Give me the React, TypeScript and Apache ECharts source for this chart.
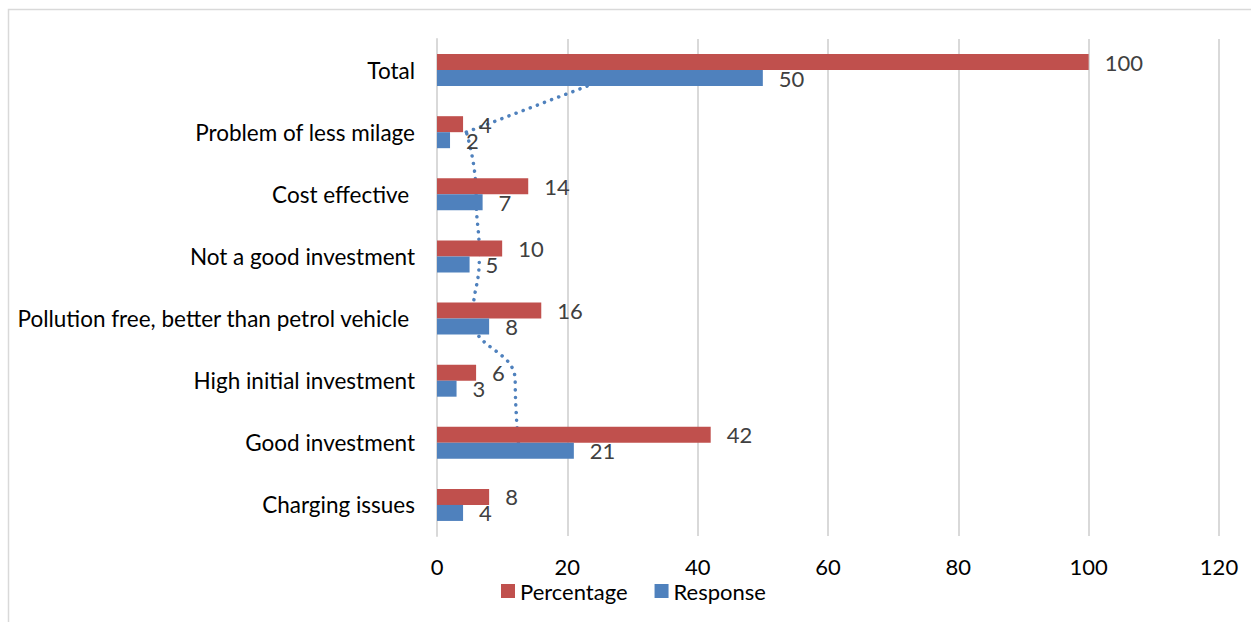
import React, { useEffect, useRef } from "react";
import * as echarts from "echarts";

// Categories listed bottom to top, as the category axis draws them
const categories = [
  "Charging issues",
  "Good investment",
  "High initial investment",
  "Pollution free, better than petrol vehicle ",
  "Not a good investment",
  "Cost effective ",
  "Problem of less milage",
  "Total",
];
const percentage = [8, 42, 6, 16, 10, 14, 4, 100];
const response = [4, 21, 3, 8, 5, 7, 2, 50];
// Moving-average trendline of the responses (starts at the second category)
const responseTrend: (number | string)[] = ["-", 12.5, 12, 5.5, 6.5, 6, 4.5, 29.5];
const xTicks = { min: 0, max: 120, interval: 20 };

// The curved stretch runs up to "Problem of less milage"; the last stretch to "Total" is straight
const lastIdx = responseTrend.length - 1;
const trendCurve = responseTrend.map((v, i) => (i === lastIdx ? "-" : v));
const trendTail = responseTrend.map((v, i) => (i >= lastIdx - 1 ? v : "-"));

const FONT = "Lato, 'Open Sans', sans-serif";
const FS_CAT = 22.5;
const FS = 22;
const RED = "#C0504D";
const BLUE = "#4F81BD";
const GRID = "#D9D9D9";

export default function App() {
  const ref = useRef<HTMLDivElement>(null);

  useEffect(() => {
    document.body.style.margin = "0";
    const chart = echarts.init(ref.current!, undefined, { renderer: "svg" });
    const valueLabel = {
      show: true,
      position: "right",
      distance: 16,
      color: "#404040",
      fontSize: FS,
      fontFamily: FONT,
    };
    const trendStyle = { color: BLUE, width: 3.5, type: [0.1, 7.5], cap: "round" };
    chart.setOption({
      animation: false,
      backgroundColor: "#fff",
      textStyle: { fontFamily: FONT },
      graphic: [
        {
          type: "rect",
          left: 6,
          top: 7,
          shape: { width: 1270, height: 640 },
          style: { fill: "none", stroke: GRID, lineWidth: 1.5 },
          silent: true,
          z: -10,
        },
      ],
      legend: {
        data: ["Percentage", "Response"],
        left: 501,
        top: 580,
        padding: 0,
        itemWidth: 14,
        itemHeight: 14,
        itemGap: 27,
        icon: "rect",
        textStyle: { fontSize: FS, lineHeight: 18, color: "#000", fontFamily: FONT },
      },
      grid: { left: 437, right: 32, top: 39, bottom: 86, containLabel: false },
      xAxis: {
        type: "value",
        min: xTicks.min,
        max: xTicks.max,
        interval: xTicks.interval,
        axisLine: { show: false },
        axisTick: { show: false },
        axisLabel: { fontSize: FS, lineHeight: 18, color: "#000", margin: 21, fontFamily: FONT },
        splitLine: { show: true, lineStyle: { color: GRID, width: 2 } },
      },
      yAxis: {
        type: "category",
        data: categories,
        axisLine: { show: true, lineStyle: { color: GRID, width: 2 } },
        axisTick: { show: false },
        axisLabel: { fontSize: FS_CAT, color: "#000", margin: 22, fontFamily: FONT },
        splitLine: { show: false },
      },
      series: [
        {
          name: "Percentage",
          type: "bar",
          data: percentage,
          barWidth: 16,
          barGap: "0%",
          itemStyle: { color: RED },
          label: valueLabel,
          z: 3,
        },
        {
          name: "Response",
          type: "bar",
          data: response,
          barWidth: 16,
          barGap: "0%",
          itemStyle: { color: BLUE },
          label: valueLabel,
          z: 3,
        },
        {
          name: "Response trend",
          type: "line",
          data: trendCurve,
          smooth: 0.5,
          smoothMonotone: "y",
          symbol: "none",
          lineStyle: trendStyle,
          z: 1,
        },
        {
          name: "Response trend (top)",
          type: "line",
          data: trendTail,
          smooth: false,
          symbol: "none",
          lineStyle: trendStyle,
          z: 1,
        },
      ],
    });
    return () => chart.dispose();
  }, []);

  return <div ref={ref} style={{ width: 1251, height: 622 }} />;
}
